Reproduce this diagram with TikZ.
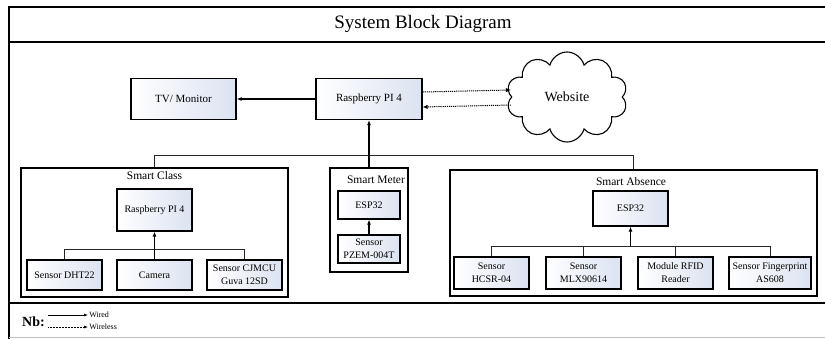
\documentclass[tikz,border=0pt]{standalone}
\usepackage{fontspec}
\setmainfont{Liberation Serif}
\usetikzlibrary{positioning,shapes.symbols,shadows,arrows.meta}

\definecolor{boxblue}{RGB}{220,226,241}

\tikzset{
  blk/.style={draw, line width=1.2pt, left color=white, right color=boxblue,
    drop shadow={shadow xshift=0.8pt, shadow yshift=-0.8pt, opacity=0.35},
    align=center, inner sep=1pt, font=\fontsize{10}{13}\selectfont},
  topblk/.style={blk, font=\fontsize{11}{13}\selectfont},
  grp/.style={draw, line width=1.4pt, fill=white,
    drop shadow={shadow xshift=0.8pt, shadow yshift=-0.8pt, opacity=0.35}},
  grptitle/.style={inner sep=1pt, font=\fontsize{11.5}{13}\selectfont},
  wire/.style={-{Latex[length=5pt,width=4pt]}, line width=1.1pt},
  bus/.style={line width=0.6pt, draw=black!85},
  wless/.style={-{Latex[length=5pt,width=4.5pt]}, dash pattern=on 1.2pt off 0.9pt, line width=1pt},
}

\begin{document}
\begin{tikzpicture}[x=1pt,y=-1pt]
  \useasboundingbox (0,0) rectangle (825,338);
  \clip (0,0) rectangle (825,338);

  % frame
  \draw[line width=1.5pt] (9,345) -- (9,7) -- (845,7);
  \draw[line width=1.5pt] (9,42) -- (845,42);
  \draw[line width=1.5pt] (9,303) -- (845,303);
  \draw[black!25, line width=0.6pt] (9,337) -- (845,337);
  \node[font=\fontsize{19}{22}\selectfont] (title) at (423,24) {System Block Diagram};

  % top level
  \node[topblk, minimum width=105pt, minimum height=41pt] (tv) at (183.5,99) {TV/ Monitor};
  \node[topblk, minimum width=106pt, minimum height=41pt] (rpi) at (369,99) {Raspberry PI 4};
  \node[draw, cloud, cloud puffs=10, aspect=1.35, line width=1.1pt,
    minimum width=121pt, minimum height=90pt,
    font=\fontsize{14}{16}\selectfont] (web) at (567,97) {Website};

  \draw[wire] (rpi.west) -- (tv.east);
  \draw[wless] ([yshift=7pt]rpi.east) -- ([yshift=7pt]web.west);
  \draw[wless] ([yshift=-8pt]web.west) -- ([yshift=-8pt]rpi.east);

  % groups
  \node[grp, minimum width=267pt, minimum height=129pt] (sclass) at (154.5,232.5) {};
  \node[grp, minimum width=78pt, minimum height=104pt] (smeter) at (369,220) {};
  \node[grp, minimum width=367pt, minimum height=126pt] (sabs) at (633.5,233) {};

  \node[grptitle, below=3pt of sclass.north] (scname) {Smart Class};
  \node[grptitle] (smname) at (376,180) {Smart Meter};
  \node[grptitle] (saname) at (631,182) {Smart Absence};

  \draw[bus] (sclass.north) -- ++(0,-12) -| (sabs.north);
  \draw[wire] (smeter.north) -- (rpi.south);

  % smart class
  \node[blk, minimum width=75pt, minimum height=42pt] (scrpi) at (154.5,210) {Raspberry PI 4};
  \node[blk, minimum width=75pt, minimum height=30pt] (dht) at (64.5,275) {Sensor DHT22};
  \node[blk, minimum width=75pt, minimum height=30pt] (cam) at (154.5,275) {Camera};
  \node[blk, minimum width=75pt, minimum height=30pt] (cjmcu) at (244.5,275) {Sensor CJMCU\\Guva 12SD};

  \draw[bus] (dht.north) -- ++(0,-10) -| (cjmcu.north);
  \draw[wire] (cam.north) -- (scrpi.south);

  % smart meter
  \node[blk, minimum width=62pt, minimum height=28pt] (smesp) at (369,205) {ESP32};
  \node[blk, minimum width=62pt, minimum height=28pt] (pzem) at (369,249) {Sensor\\PZEM-004T};

  \draw[wire] (pzem.north) -- (smesp.south);

  % smart absence
  \node[blk, minimum width=75pt, minimum height=35pt] (saesp) at (630.5,208.5) {ESP32};
  \node[blk, minimum width=75pt, minimum height=32pt] (hcsr) at (491.5,273) {Sensor\\HCSR-04};
  \node[blk, minimum width=75pt, minimum height=32pt] (mlx) at (583.5,273) {Sensor\\MLX90614};
  \node[blk, minimum width=75pt, minimum height=32pt] (rfid) at (675.5,273) {Module RFID\\Reader};
  \node[blk, minimum width=82pt, minimum height=32pt] (finger) at (770,273) {Sensor Fingerprint\\AS608};

  \draw[bus] (hcsr.north) -- ++(0,-10) coordinate (abus) -| (finger.north);
  \draw[bus] (mlx.north) -- (mlx.north |- abus);
  \draw[bus] (rfid.north) -- (rfid.north |- abus);
  \draw[wire] (abus -| saesp.south) -- (saesp.south);

  % legend
  \node[font=\bfseries\fontsize{14}{15}\selectfont] (nb) at (33.5,322) {Nb:};
  \coordinate (wa) at (48,315);
  \coordinate (wb) at (88,315);
  \coordinate (la) at (48,327);
  \coordinate (lb) at (88,327);
  \draw[-{Latex[length=4pt,width=3pt]}, line width=0.6pt] (wa) -- (wb)
    node[right, inner sep=1pt, font=\fontsize{8}{9}\selectfont] (wired) {Wired};
  \draw[-{Latex[length=4pt,width=3pt]}, dash pattern=on 0.8pt off 0.7pt, line width=0.6pt] (la) -- (lb)
    node[right, inner sep=1pt, font=\fontsize{8}{9}\selectfont] (wireless) {Wireless};
\end{tikzpicture}
\end{document}
